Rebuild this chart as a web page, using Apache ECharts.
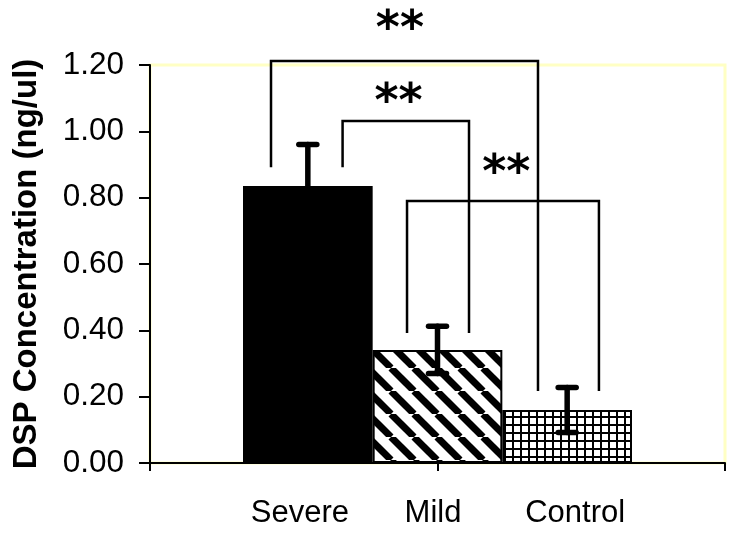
<!DOCTYPE html>
<html><head><meta charset="utf-8">
<script src="https://cdn.jsdelivr.net/npm/echarts@6/dist/echarts.min.js"></script>
<style>html,body{margin:0;padding:0;background:#fff}#c{width:746px;height:544px}</style>
</head><body><div id="c"></div>
<script>
// ---- data ----
const categories = ['Severe', 'Mild', 'Control'];
const means = [0.835, 0.341, 0.160];
const errors = [0.125, 0.071, 0.068];
const yMin = 0, yMax = 1.2, yStep = 0.2;
// significance brackets (category index, heights in ng/ul)
const bracketFrom = [0, 0, 1];
const bracketTo = [2, 1, 2];
const bracketTop = [1.212, 1.031, 0.790];
const bracketLeftEnd = [0.892, 0.892, 0.392];
const bracketRightEnd = [0.217, 0.392, 0.217];
const bracketText = ['**', '**', '**'];
// annotation anchors (category units / ng/ul)
const starX = [0.71, 0.70, 1.53];
const starY = [1.337, 1.115, 0.901];

// ---- styling ----
const legShiftL = [-0.284, 0.268, -0.235];
const legShiftR = [-0.225, 0.243, 0.245];
const FONT = '"Liberation Sans", Arial, sans-serif';

function hatchPattern() {
  const s = 23, c = document.createElement('canvas');
  c.width = c.height = s;
  const g = c.getContext('2d');
  g.fillStyle = '#fff'; g.fillRect(0, 0, s, s);
  g.strokeStyle = '#000'; g.lineWidth = 7;
  for (const k of [-s, 0, s]) { g.beginPath(); g.moveTo(k, 0); g.lineTo(k + s, s); g.stroke(); }
  return c;
}
function gridPattern() {
  const s = 8, c = document.createElement('canvas');
  c.width = c.height = s;
  const g = c.getContext('2d');
  g.fillStyle = '#fff'; g.fillRect(0, 0, s, s);
  g.fillStyle = '#000'; g.fillRect(0, 0, s, 2); g.fillRect(0, 0, 2, s);
  return c;
}
const fills = ['#000', { image: hatchPattern(), repeat: 'repeat' }, { image: gridPattern(), repeat: 'repeat' }];
const labelPad = [[0, 16, 0, 0], [0, 9, 0, 0], [0, 0, 0, 16]];

const chart = echarts.init(document.getElementById('c'), null, { renderer: 'canvas' });
const option = {
  animation: false,
  backgroundColor: '#fff',
  textStyle: { fontFamily: FONT },
  grid: [
    { left: 150, right: 21, top: 65, bottom: 81, show: true, borderColor: '#ffffc4', borderWidth: 3, backgroundColor: '#fff' },
    { left: 243, right: 114, top: 65, bottom: 81 }
  ],
  xAxis: [
    { gridIndex: 0, type: 'value', min: 0, max: 2, interval: 1,
      axisLine: { show: true, lineStyle: { color: '#000', width: 2 } },
      axisTick: { show: true, length: 8, lineStyle: { color: '#000', width: 2 } },
      axisLabel: { show: false }, splitLine: { show: false } },
    { gridIndex: 1, type: 'category', data: categories,
      axisLine: { show: false }, axisTick: { show: false },
      axisLabel: { interval: 0, margin: 35, fontSize: 31, color: '#000', fontFamily: FONT,
        formatter: (v, i) => '{c' + i + '|' + v + '}',
        rich: Object.fromEntries(categories.map((_, i) => ['c' + i, { fontSize: 31, color: '#000', fontFamily: FONT, padding: labelPad[i] }])) } }
  ],
  yAxis: [
    { gridIndex: 0, type: 'value', min: yMin, max: yMax, interval: yStep,
      axisLine: { show: true, lineStyle: { color: '#000', width: 2 } },
      axisTick: { show: true, length: 11, lineStyle: { color: '#000', width: 2 } },
      axisLabel: { margin: 26, fontSize: 31.5, color: '#000', fontFamily: FONT, formatter: v => v.toFixed(2) },
      splitLine: { show: false },
      name: 'DSP Concentration (ng/ul)', nameLocation: 'middle', nameGap: 107,
      nameTextStyle: { fontSize: 33, fontWeight: 'bold', color: '#000', fontFamily: FONT } },
    { gridIndex: 1, type: 'value', min: yMin, max: yMax, show: false }
  ],
  series: [
    { type: 'bar', xAxisIndex: 1, yAxisIndex: 1, barCategoryGap: '0%',
      data: means.map((v, i) => ({ value: v, itemStyle: { color: fills[i], borderColor: '#000', borderWidth: 2 } })) },
    { type: 'custom', xAxisIndex: 1, yAxisIndex: 1, clip: false, z: 5,
      data: means.map((m, i) => [i, m - errors[i], m + errors[i]]),
      renderItem: (params, api) => {
        const lo = api.coord([api.value(0), api.value(1)]);
        const hi = api.coord([api.value(0), api.value(2)]);
        const st = { stroke: '#000', lineWidth: 5.5, lineCap: 'round' };
        const hw = 9;
        return { type: 'group', children: [
          { type: 'line', shape: { x1: hi[0], y1: hi[1], x2: lo[0], y2: lo[1] }, style: st },
          { type: 'line', shape: { x1: hi[0] - hw, y1: hi[1], x2: hi[0] + hw, y2: hi[1] }, style: st },
          { type: 'line', shape: { x1: lo[0] - hw, y1: lo[1], x2: lo[0] + hw, y2: lo[1] }, style: st }
        ] };
      } },
    { type: 'custom', xAxisIndex: 1, yAxisIndex: 1, clip: false, z: 6,
      data: bracketFrom.map((f, i) => [f, bracketTo[i], bracketTop[i], bracketLeftEnd[i], bracketRightEnd[i], starX[i], starY[i]]),
      renderItem: (params, api) => {
        const i = params.dataIndex;
        const bw = api.size([1, 0])[0];
        const xl = api.coord([api.value(0), 0])[0] + legShiftL[i] * bw;
        const xr = api.coord([api.value(1), 0])[0] + legShiftR[i] * bw;
        const yt = api.coord([0, api.value(2)])[1];
        const yl = api.coord([0, api.value(3)])[1];
        const yr = api.coord([0, api.value(4)])[1];
        const sx = api.coord([0, 0])[0] + api.value(5) * bw;
        const sy = api.coord([0, api.value(6)])[1];
        return { type: 'group', children: [
          { type: 'polyline', shape: { points: [[xl, yl], [xl, yt], [xr, yt], [xr, yr]] },
            style: { stroke: '#000', lineWidth: 2.5, fill: null } },
          { type: 'text', x: sx, y: sy + 11,
            style: { text: bracketText[i], font: 'bold 46px "DejaVu Sans"', fill: '#000', textAlign: 'center', textVerticalAlign: 'middle' } }
        ] };
      } }
  ]
};
chart.setOption(option);
</script>
</body></html>
